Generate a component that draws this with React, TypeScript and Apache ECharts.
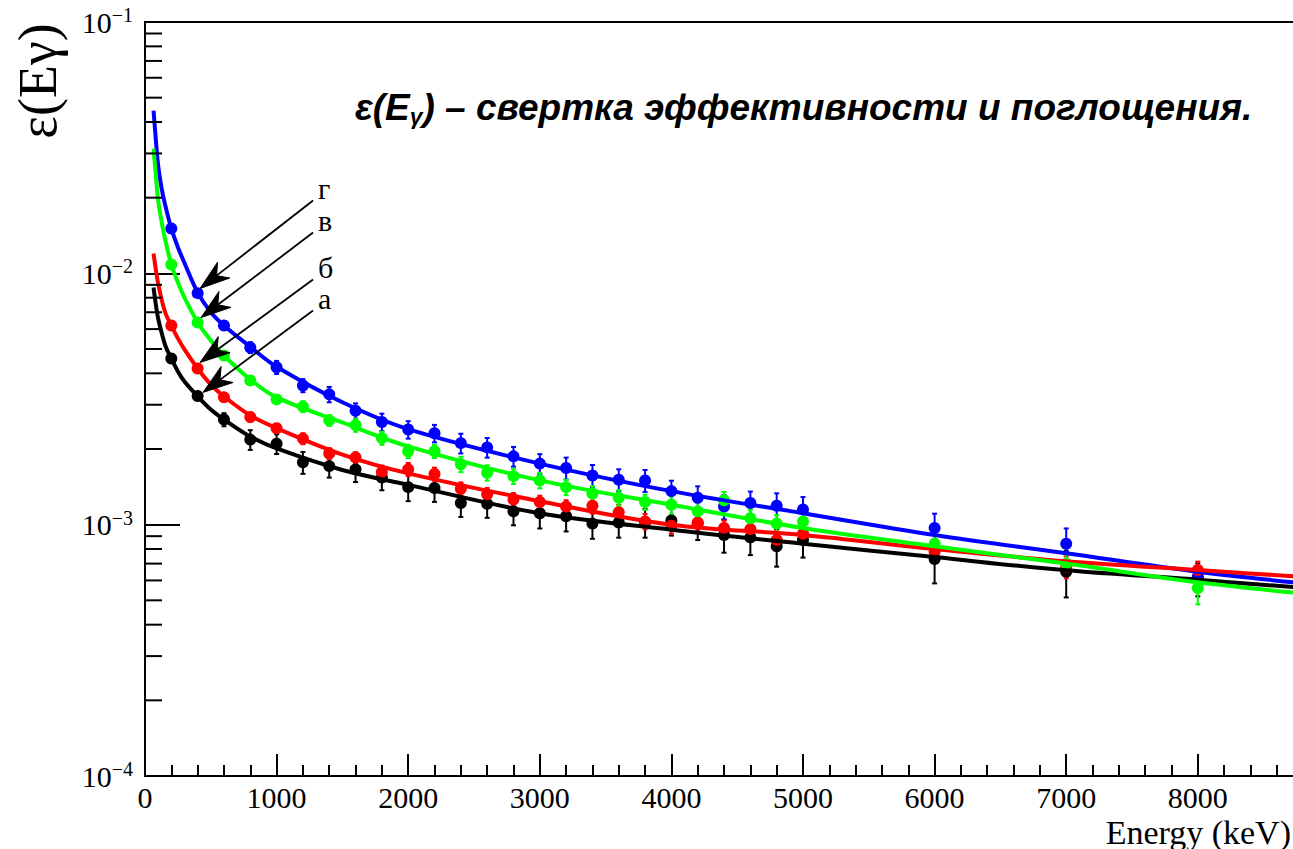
import React, { useEffect, useRef } from "react";
import * as echarts from "echarts";

// Measured points: gamma-ray energy, keV
const energyKeV = [200, 400, 600, 800, 1000, 1200, 1400, 1600, 1800, 2000, 2200, 2400, 2600, 2800, 3000, 3200, 3400, 3600, 3800, 4000, 4200, 4400, 4600, 4800, 5000, 6000, 7000, 8000];

// ε(Eγ) for the four configurations а, б, в, г
const effA = [0.00458, 0.00325, 0.00262, 0.00218, 0.0021, 0.00177, 0.00171, 0.00166, 0.00154, 0.00141, 0.0014, 0.00122, 0.00121, 0.00113, 0.00111, 0.00108, 0.00101, 0.00102, 0.00102, 0.00104, 0.00101, 0.00091, 0.00089, 0.00082, 0.00087, 0.00073, 0.00065, 0.00061];
const effB = [0.0062, 0.00418, 0.00321, 0.00268, 0.00242, 0.0022, 0.00192, 0.00185, 0.00162, 0.00166, 0.00159, 0.00139, 0.00132, 0.00126, 0.00123, 0.00118, 0.00119, 0.00112, 0.00103, 0.00099, 0.00102, 0.00097, 0.00096, 0.00087, 0.00092, 0.00078, 0.00068, 0.00066];
const effV = [0.01084, 0.00637, 0.00471, 0.00375, 0.00315, 0.00295, 0.0026, 0.00249, 0.00221, 0.00196, 0.00196, 0.00174, 0.00161, 0.00156, 0.0015, 0.00141, 0.00133, 0.00128, 0.00123, 0.0012, 0.00113, 0.00125, 0.00106, 0.00101, 0.00103, 0.00084, 0.0007, 0.00056];
const effG = [0.01507, 0.00834, 0.0062, 0.00507, 0.00423, 0.00358, 0.0033, 0.00284, 0.00256, 0.00239, 0.00231, 0.00211, 0.00203, 0.00187, 0.00175, 0.00168, 0.00157, 0.00151, 0.0015, 0.00136, 0.00128, 0.00118, 0.00122, 0.00119, 0.00115, 0.00097, 0.00084, 0.00062];

// Relative uncertainties, %
const errA = [2, 3, 6, 9, 9, 10, 10, 11, 11, 12, 12, 12, 12, 12, 13, 13, 13, 13, 13, 13, 14, 15, 15, 17, 15, 20, 21, 15];
const errB = [2, 3, 3, 4, 4, 5, 5, 5, 6, 6, 6, 6, 6, 6, 6, 6, 7, 7, 7, 7, 7, 7, 8, 8, 8, 9, 10, 8];
const errV = [2, 3, 3, 4, 4, 5, 5, 6, 6, 6, 6, 7, 7, 7, 7, 7, 7, 7, 7, 8, 8, 8, 8, 8, 8, 9, 9, 14];
const errG = [3, 3, 4, 5, 6, 6, 7, 7, 8, 8, 8, 9, 9, 9, 9, 10, 10, 10, 10, 10, 11, 11, 11, 12, 12, 14, 15, 10];

// Fitted efficiency curves, sampled
const fitEnergyKeV = [65, 80, 100, 130, 160, 200, 250, 300, 400, 500, 600, 800, 1000, 1500, 2000, 3000, 4000, 5000, 6000, 7000, 8000, 9000];
const fitA = [0.00878, 0.00766, 0.00661, 0.00571, 0.00507, 0.00458, 0.00407, 0.00371, 0.00324, 0.00287, 0.00262, 0.00224, 0.00201, 0.00165, 0.00144, 0.00111, 0.000955, 0.00084, 0.000743, 0.000658, 0.000604, 0.00055];
const fitB = [0.01199, 0.01054, 0.0091, 0.00773, 0.00685, 0.0062, 0.00551, 0.00498, 0.00418, 0.00361, 0.00324, 0.00272, 0.00242, 0.0019, 0.0016, 0.00124, 0.001, 0.00091, 0.0008, 0.000715, 0.00066, 0.00061];
const fitV = [0.03134, 0.0254, 0.01948, 0.01563, 0.01314, 0.01084, 0.00919, 0.00801, 0.00637, 0.00541, 0.00471, 0.00378, 0.00321, 0.00255, 0.00205, 0.0015, 0.0012, 0.00097, 0.00082, 0.0007, 0.00059, 0.00052];
const fitG = [0.0444, 0.0353, 0.0268, 0.0213, 0.0181, 0.0151, 0.0127, 0.011, 0.0084, 0.007, 0.0062, 0.0051, 0.00425, 0.00307, 0.0024, 0.00175, 0.00136, 0.00111, 0.00091, 0.00077, 0.00065, 0.00057];

// Log-axis minor tick values
const yMinorTicks = [
  0.0002, 0.0003, 0.0004, 0.0005, 0.0006, 0.0007, 0.0008, 0.0009,
  0.002, 0.003, 0.004, 0.005, 0.006, 0.007, 0.008, 0.009,
  0.02, 0.03, 0.04, 0.05, 0.06, 0.07, 0.08, 0.09,
];

// Pointer annotations (data coordinates: keV, ε): tail and tip of each arrow
const arrowLabels = ["г", "в", "б", "а"];
const arrowFrom = [[1277, 0.01948], [1277, 0.01453], [1277, 0.00945], [1277, 0.00711]];
const arrowTip = [[418, 0.0087], [426, 0.00667], [418, 0.00442], [441, 0.00336]];

const SERIF = "Liberation Serif";
const SANS = "Liberation Sans";

type DataSet = { color: string; eff: number[]; err: number[]; fit: number[] };

// drawing order: а (black), г (blue), б (red), в (green)
const sets: DataSet[] = [
  { color: "#000000", eff: effA, err: errA, fit: fitA },
  { color: "#0000ff", eff: effG, err: errG, fit: fitG },
  { color: "#ff0000", eff: effB, err: errB, fit: fitB },
  { color: "#00ff00", eff: effV, err: errV, fit: fitV },
];

function errorBarSeries(s: DataSet) {
  return {
    type: "custom",
    silent: true,
    data: energyKeV.map((e, i) => [e, s.eff[i], s.eff[i] * (1 - s.err[i] / 100), s.eff[i] * (1 + s.err[i] / 100)]),
    encode: { x: 0, y: [1, 2, 3] },
    renderItem: (_params: any, api: any) => {
      const x = api.value(0);
      const top = api.coord([x, api.value(3)]);
      const bot = api.coord([x, api.value(2)]);
      const cap = 2.5;
      const st = { stroke: s.color, lineWidth: 2 };
      return {
        type: "group",
        children: [
          { type: "line", shape: { x1: top[0], y1: top[1], x2: bot[0], y2: bot[1] }, style: st },
          { type: "line", shape: { x1: top[0] - cap, y1: top[1], x2: top[0] + cap, y2: top[1] }, style: st },
          { type: "line", shape: { x1: bot[0] - cap, y1: bot[1], x2: bot[0] + cap, y2: bot[1] }, style: st },
        ],
      };
    },
    z: 2,
  };
}

function pointSeries(s: DataSet) {
  return {
    type: "scatter",
    silent: true,
    symbol: "circle",
    symbolSize: 12,
    itemStyle: { color: s.color, opacity: 1 },
    data: energyKeV.map((e, i) => [e, s.eff[i]]),
    z: 3,
  };
}

function fitSeries(s: DataSet) {
  return {
    type: "line",
    silent: true,
    smooth: 0.35,
    showSymbol: false,
    symbol: "none",
    lineStyle: { color: s.color, width: 4 },
    data: fitEnergyKeV.map((e, i) => [e, s.fit[i]]),
    z: 4,
  };
}

// filled arrow head with a notched back, pointing from `from` to `tip`
function arrowGraphics(from: number[], tip: number[]) {
  const dx = tip[0] - from[0];
  const dy = tip[1] - from[1];
  const len = Math.hypot(dx, dy) || 1;
  const ux = dx / len;
  const uy = dy / len;
  const nx = -uy;
  const ny = ux;
  const L = 30;
  const W = 10;
  const bx = tip[0] - L * ux;
  const by = tip[1] - L * uy;
  const notchX = tip[0] - 0.7 * L * ux;
  const notchY = tip[1] - 0.7 * L * uy;
  return [
    {
      type: "line",
      silent: true,
      shape: { x1: from[0], y1: from[1], x2: notchX, y2: notchY },
      style: { stroke: "#000", lineWidth: 1.8 },
      z: 100,
    },
    {
      type: "polygon",
      silent: true,
      shape: {
        points: [
          [tip[0], tip[1]],
          [bx + W * nx, by + W * ny],
          [notchX, notchY],
          [bx - W * nx, by - W * ny],
        ],
      },
      style: { fill: "#000", stroke: "#000", lineWidth: 1 },
      z: 100,
    },
  ];
}

export default function App() {
  const ref = useRef<HTMLDivElement>(null);

  useEffect(() => {
    if (!ref.current) return;
    const chart = echarts.init(ref.current, null, { renderer: "svg" });

    const series: any[] = [];
    sets.forEach((s) => {
      series.push(errorBarSeries(s), pointSeries(s), fitSeries(s));
    });

    // minor ticks of the logarithmic axis
    series.push({
      type: "custom",
      silent: true,
      clip: false,
      data: yMinorTicks.map((v) => [0, v]),
      renderItem: (_p: any, api: any) => {
        const p = api.coord([api.value(0), api.value(1)]);
        return {
          type: "line",
          shape: { x1: p[0], y1: p[1], x2: p[0] + 17, y2: p[1] },
          style: { stroke: "#000", lineWidth: 2 },
        };
      },
      z: 6,
    });

    const option: any = {
      animation: false,
      backgroundColor: "#ffffff",
      grid: {
        left: 145,
        top: 22,
        width: 1184.4,
        height: 754,
        show: true,
        borderColor: "#000",
        borderWidth: 2,
        backgroundColor: "transparent",
        containLabel: false,
        outerBoundsMode: "none",
      },
      xAxis: {
        type: "value",
        min: 0,
        max: 9000,
        interval: 1000,
        axisLine: { show: true, onZero: false, lineStyle: { color: "#000", width: 2 } },
        axisTick: { show: true, inside: true, length: 22, lineStyle: { color: "#000", width: 2 } },
        minorTick: { show: true, splitNumber: 5, length: 11, lineStyle: { color: "#000", width: 2 } },
        splitLine: { show: false },
        minorSplitLine: { show: false },
        axisLabel: {
          show: true,
          margin: 6,
          color: "#000",
          fontFamily: SERIF,
          fontSize: 30,
          showMinLabel: true,
          showMaxLabel: false,
          formatter: (v: number) => String(Math.round(v)),
        },
      },
      yAxis: {
        type: "log",
        logBase: 10,
        min: 0.0001,
        max: 0.1,
        axisLine: { show: true, onZero: false, lineStyle: { color: "#000", width: 2 } },
        axisTick: { show: true, inside: true, length: 35, lineStyle: { color: "#000", width: 2 } },
        splitLine: { show: false },
        axisLabel: {
          show: true,
          margin: 12,
          showMinLabel: true,
          showMaxLabel: true,
          formatter: (v: number) => `{b|10}{s|\u2212${Math.abs(Math.round(Math.log10(v)))}}`,
          rich: {
            b: { fontFamily: SERIF, fontSize: 30, color: "#000" },
            s: { fontFamily: SERIF, fontSize: 20, color: "#000", padding: [0, 0, 14, 0] },
          },
        },
      },
      series,
    };

    chart.setOption(option);

    const annotation: any[] = [];
    arrowLabels.forEach((t, i) => {
      const p0 = chart.convertToPixel({ gridIndex: 0 }, arrowFrom[i]) as number[];
      const p1 = chart.convertToPixel({ gridIndex: 0 }, arrowTip[i]) as number[];
      annotation.push(...arrowGraphics(p0, p1));
      annotation.push({
        type: "text",
        x: p0[0] + 5,
        y: p0[1] - 12,
        silent: true,
        z: 100,
        style: {
          text: t,
          fontFamily: SERIF,
          fontSize: 30,
          fill: "#000",
          align: "left",
          verticalAlign: "middle",
          textAlign: "left",
          textVerticalAlign: "middle",
        },
      });
    });

    chart.setOption({
      graphic: [
        {
          type: "text",
          x: 38,
          y: 81,
          rotation: Math.PI / 2,
          silent: true,
          style: {
            text: "ε(Eγ)",
            fontFamily: SERIF,
            fontSize: 54,
            fill: "#000",
            align: "center",
            verticalAlign: "middle",
            textAlign: "center",
            textVerticalAlign: "middle",
          },
        },
        {
          type: "text",
          x: 1291,
          y: 849,
          silent: true,
          style: {
            text: "Energy (keV)",
            fontFamily: SERIF,
            fontSize: 34,
            fill: "#000",
            align: "right",
            verticalAlign: "bottom",
            textAlign: "right",
            textVerticalAlign: "bottom",
          },
        },
        {
          type: "text",
          x: 355,
          y: 107,
          silent: true,
          style: {
            text: "{m|ε(E}{s|γ}{m|) – свертка эффективности и поглощения.}",
            align: "left",
            verticalAlign: "middle",
            textAlign: "left",
            textVerticalAlign: "middle",
            rich: {
              m: { fontFamily: SANS, fontSize: 37, fontWeight: "bold", fontStyle: "italic", fill: "#000" },
              s: { fontFamily: SANS, fontSize: 23, fontWeight: "bold", fontStyle: "italic", fill: "#000", padding: [18, 0, 0, 0] },
            },
          },
        },
        ...annotation,
      ],
    });

    return () => {
      chart.dispose();
    };
  }, []);

  return (
    <div
      style={{
        position: "fixed",
        left: 0,
        top: 0,
        width: 1293,
        height: 849,
        overflow: "hidden",
        background: "#ffffff",
      }}
    >
      <div ref={ref} style={{ width: 1400, height: 849 }} />
    </div>
  );
}
